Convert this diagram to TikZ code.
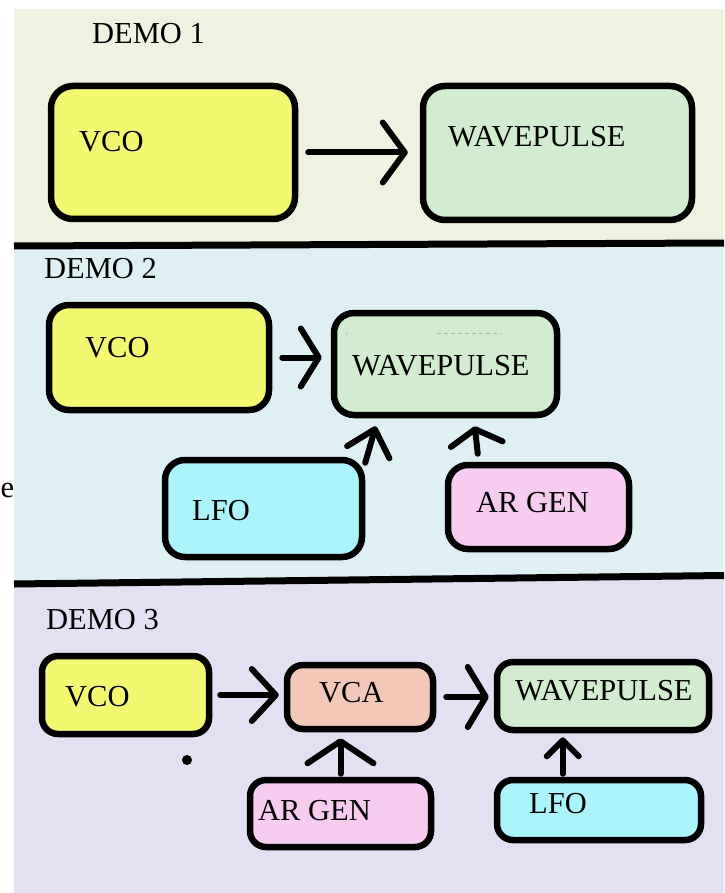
\documentclass[tikz,border=0pt]{standalone}
\usepackage{fontspec}
\setmainfont{Liberation Serif}
\usetikzlibrary{arrows.meta,calc}
\definecolor{bgA}{HTML}{EFF1E1}
\definecolor{bgB}{HTML}{DFF0F4}
\definecolor{bgC}{HTML}{E4E0F4}
\definecolor{cyel}{HTML}{F4F870}
\definecolor{cgrn}{HTML}{D2ECD0}
\definecolor{ccyn}{HTML}{ACF4FC}
\definecolor{cpnk}{HTML}{F8CCF0}
\definecolor{csal}{HTML}{F4C8B8}
\begin{document}
\begin{tikzpicture}[x=1pt,y=-1pt,
  box/.style={draw=black, line width=6.5pt, rounded corners=16pt, inner sep=0pt},
  lbl/.style={anchor=base west, inner sep=0pt, font=\fontsize{30.5}{30}\selectfont},
  arr/.style={line width=6pt, line cap=round, -{Straight Barb[round,length=20pt,width=55pt]}}]
\fill[white] (0,0) rectangle (724,893);
\useasboundingbox (0,0) rectangle (724,893);
\fill[bgA] (14,9) rectangle (724,245);
\fill[bgB] (14,245) rectangle (724,580);
\fill[bgC] (14,580) rectangle (724,893);
\draw[line width=7pt] (14,246) -- (724,243);
\draw[line width=7pt] (14,584) -- (724,575.5);

% panel 1
\node[box, fill=cyel, minimum width=244pt, minimum height=133pt, rounded corners=22pt] (vco1) at (173,152.5) {};
\node[box, fill=cgrn, minimum width=269pt, minimum height=134pt, rounded corners=22pt] (wp1) at (557.5,153) {};
\node[lbl] (demo1) at (92,44) {DEMO 1};
\node[lbl] (tvco1) at (79,152) {VCO};
\node[lbl] (twp1) at (448,147) {WAVEPULSE};
\draw[arr, shorten <=10pt, shorten >=12pt, -{Straight Barb[round,length=22pt,width=60pt]}] (vco1.east) -- (vco1.east -| wp1.west);

% panel 2
\node[box, fill=cyel, minimum width=220pt, minimum height=105pt, rounded corners=20pt] (vco2) at (159,357.5) {};
\node[box, fill=cgrn, minimum width=223pt, minimum height=102pt, rounded corners=20pt] (wp2) at (445.5,364) {};
\node[box, fill=ccyn, minimum width=197pt, minimum height=97pt, rounded corners=20pt] (lfo2) at (263.5,508.5) {};
\node[box, fill=cpnk, minimum width=181pt, minimum height=84pt, rounded corners=20pt] (ar2) at (538.5,507) {};
\node[lbl] (demo2) at (44,278) {DEMO 2};
\node[lbl] (tvco2) at (85,357) {VCO};
\node[lbl] (twp2) at (352,375) {WAVEPULSE};
\node[lbl] (tlfo2) at (192,520) {LFO};
\node[lbl] (tar2) at (476,512) {AR GEN};
\node[lbl] (te) at (0.5,497) {e};
\draw[gray!60, line width=1pt, dash pattern=on 4pt off 3pt] ($(wp2.north west)+(106,24)$) -- ($(wp2.north west)+(170,24)$);
\fill[gray!60] ($(wp2.north west)+(16,24)$) circle (0.8);
\draw[arr, shorten <=10pt, shorten >=9pt, -{Straight Barb[round,length=18pt,width=58pt]}] (vco2.east) -- (vco2.east -| wp2.west);
\draw[arr, -{Straight Barb[round,length=24pt,width=44pt]}] ($(lfo2.north east)+(0,6)$) -- ($(wp2.south west)+(45,8)$);
\draw[arr, -{Straight Barb[round,length=15pt,width=52pt]}] ($(ar2.north west)+(33,-8)$) -- ($(wp2.south west)+(144,8)$);

% panel 3
\node[box, fill=cyel, minimum width=167pt, minimum height=78pt, rounded corners=16pt] (vco3) at (125.5,695) {};
\node[box, fill=csal, minimum width=146pt, minimum height=64pt, rounded corners=16pt] (vca3) at (360,697) {};
\node[box, fill=cgrn, minimum width=212pt, minimum height=68pt, rounded corners=16pt] (wp3) at (603,696) {};
\node[box, fill=cpnk, minimum width=181pt, minimum height=67pt, rounded corners=16pt] (ar3) at (340.5,813.5) {};
\node[box, fill=ccyn, minimum width=204pt, minimum height=60pt, rounded corners=16pt] (lfo3) at (599,810) {};
\node[lbl] (demo3) at (46,629) {DEMO 3};
\node[lbl] (tvco3) at (65,706) {VCO};
\node[lbl] (tvca3) at (319,702) {VCA};
\node[lbl] (twp3) at (515,700) {WAVEPULSE};
\node[lbl] (tar3) at (258,820) {AR GEN};
\node[lbl] (tlfo3) at (529,813) {LFO};
\fill (187,760) circle (5);
\draw[arr, shorten <=8pt, shorten >=5pt, -{Straight Barb[round,length=24pt,width=52pt]}] (vco3.east) -- (vco3.east -| vca3.west);
\draw[arr, shorten <=10pt, shorten >=5pt, -{Straight Barb[round,length=18pt,width=60pt]}] (vca3.east) -- (vca3.east -| wp3.west);
\draw[arr, shorten <=3pt, shorten >=6pt, -{Straight Barb[round,length=22pt,width=66pt]}] (ar3.north) -- (ar3.north |- vca3.south);
\coordinate (l3) at ($(lfo3.north west)+(69,0)$);
\draw[arr, shorten <=3pt, shorten >=4pt, -{Straight Barb[round,length=16pt,width=32pt]}] (l3) -- (l3 |- wp3.south);
\end{tikzpicture}
\end{document}
